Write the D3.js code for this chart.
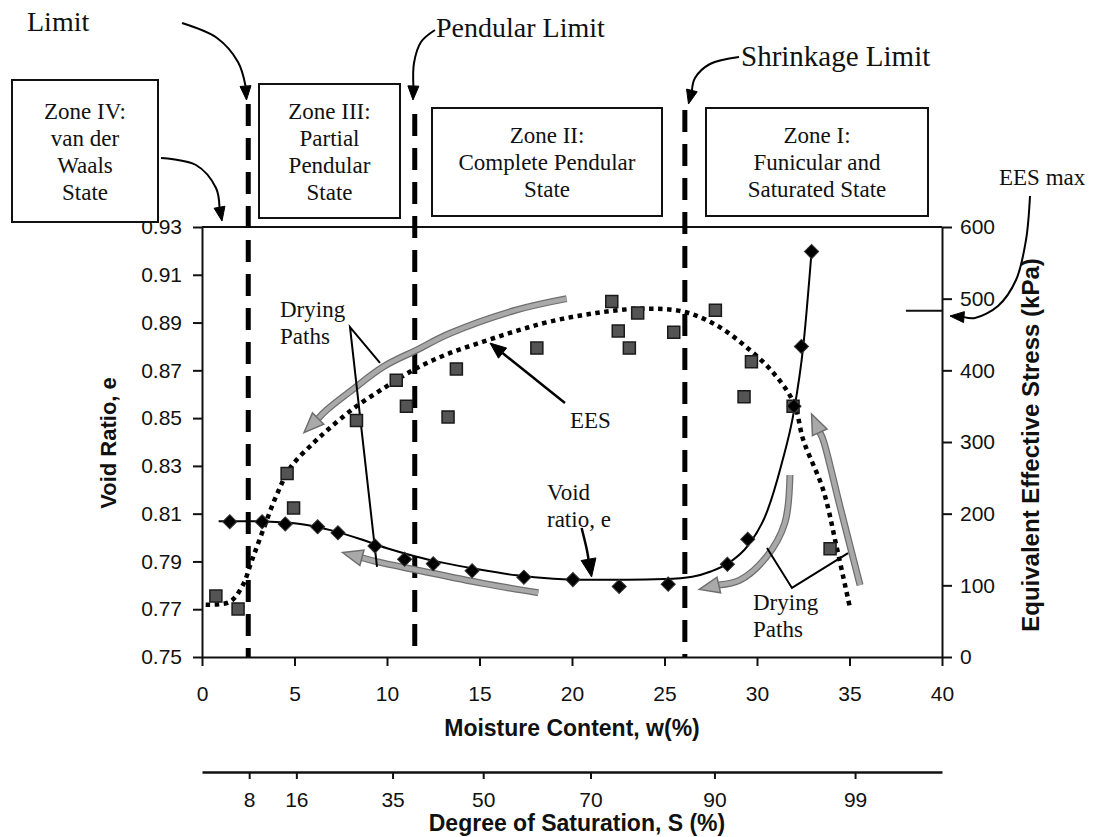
<!DOCTYPE html>
<html>
<head>
<meta charset="utf-8">
<script src="https://cdn.jsdelivr.net/npm/d3@7"></script>
<style>
  body { margin: 0; background: #fff; }
  svg { display: block; }
  .tick text { font-family: "Liberation Sans", Arial, sans-serif; font-size: 21px; fill: #111; }
  .serif { font-family: "Liberation Serif", "Times New Roman", serif; fill: #111; }
  .title { font-family: "Liberation Sans", Arial, sans-serif; font-weight: bold; fill: #111; }
</style>
</head>
<body>
<div class="canvas"></div>
<script>
"use strict";

// measured void ratio (diamonds)
const voidW = [1.5, 3.25, 4.5, 6.25, 7.35, 9.35, 10.95, 12.5, 14.6, 17.4, 20.05, 22.55, 25.2, 28.4, 29.5, 32.0, 32.4, 32.95];
const voidE = [0.8066, 0.8066, 0.8057, 0.8045, 0.802, 0.7965, 0.7909, 0.789, 0.7861, 0.7834, 0.7824, 0.7795, 0.7805, 0.7888, 0.7993, 0.855, 0.880, 0.9197];

// fitted void ratio curve (solid)
const voidFitW = [0.9, 2.5, 4, 5.5, 7, 8.5, 10, 11.5, 13, 15, 17, 19, 21, 23, 25, 26.5, 27.5, 28.5, 29.5, 30.5, 31.3, 32, 32.5, 32.95];
const voidFitE = [0.8068, 0.8068, 0.8065, 0.8055, 0.803, 0.7995, 0.7955, 0.7922, 0.7895, 0.7866, 0.7842, 0.7828, 0.7823, 0.7823, 0.7826, 0.7836, 0.7858, 0.7895, 0.7965, 0.810, 0.830, 0.853, 0.880, 0.9197];

// measured equivalent effective stress, kPa (squares)
const eesW = [0.75, 1.95, 4.6, 4.95, 8.35, 10.5, 11.05, 13.3, 13.75, 18.1, 22.15, 22.5, 23.1, 23.55, 25.5, 27.75, 29.3, 29.7, 31.95, 33.95];
const eesKpa = [85, 67, 256, 208, 330, 386, 350, 335, 402, 431, 496, 455, 431, 480, 453, 484, 363, 412, 350, 151];

// EES trend (dotted)
const eesFitW = [0.2, 1.5, 2.2, 2.7, 3.3, 4.0, 4.8, 6.0, 6.8, 8.2, 10, 11.6, 13.3, 15.2, 17, 18.8, 21.3, 23.7, 26, 27.8, 29.4, 30.9, 32, 32.5, 33.58, 34.3, 35.03];
const eesFitKpa = [73, 77, 100, 135, 177, 224, 265, 298, 317, 347, 378, 403, 423, 440, 455, 468, 480, 486, 482, 463, 433, 396, 354, 303, 233, 154, 68];

const eTicks = [0.75, 0.77, 0.79, 0.81, 0.83, 0.85, 0.87, 0.89, 0.91, 0.93];
const kpaTicks = [0, 100, 200, 300, 400, 500, 600];
const wTicks = [0, 5, 10, 15, 20, 25, 30, 35, 40];
const satLabels = [8, 16, 35, 50, 70, 90, 99];
const satW = [2.55, 5.1, 10.3, 15.2, 21.0, 27.7, 35.3];

const limitW = [2.5, 11.5, 26.1];
const limitTop = [104, 114, 110];
const eesMax = 483;

const width = 1094;
const height = 837;
const margin = { top: 227, right: 152, bottom: 180, left: 202 };

const svg = d3.select(".canvas").append("svg").attr("width", width).attr("height", height);
svg.append("rect").attr("width", width).attr("height", height).attr("fill", "#fff");

const x = d3.scaleLinear().domain([0, 40]).range([margin.left, width - margin.right]);
const yE = d3.scaleLinear().domain([0.75, 0.93]).range([height - margin.bottom, margin.top]);
const yS = d3.scaleLinear().domain([0, 600]).range([height - margin.bottom, margin.top]);
const pt = (d) => [x(d[0]), yE(d[1])];

const styleAxis = (g) => {
  g.select(".domain").attr("stroke", "#111").attr("stroke-width", 2);
  g.selectAll(".tick line").attr("stroke", "#111").attr("stroke-width", 2);
};

// axes
svg.append("g")
  .attr("transform", `translate(${margin.left},0)`)
  .call(d3.axisLeft(yE).tickValues(eTicks).tickFormat(d3.format(".2f")).tickSize(9).tickSizeOuter(0).tickPadding(11))
  .call(styleAxis);

svg.append("g")
  .attr("transform", `translate(${width - margin.right},0)`)
  .call(d3.axisRight(yS).tickValues(kpaTicks).tickSize(10).tickSizeOuter(0).tickPadding(8))
  .call(styleAxis);

svg.append("g")
  .attr("transform", `translate(0,${height - margin.bottom})`)
  .call(d3.axisBottom(x).tickValues(wTicks).tickSize(9).tickSizeOuter(0).tickPadding(20))
  .call(styleAxis);

svg.append("line")
  .attr("x1", x(0)).attr("x2", x(40))
  .attr("y1", yE(0.93)).attr("y2", yE(0.93))
  .attr("stroke", "#111").attr("stroke-width", 2);

// degree of saturation axis
const satAxis = svg.append("g")
  .attr("transform", "translate(0,772)")
  .call(d3.axisBottom(x).tickValues(satW).tickFormat((d, i) => satLabels[i]).tickSize(7).tickSizeOuter(0).tickPadding(13))
  .call(styleAxis);
satAxis.select(".domain").attr("stroke-width", 2.5);

// axis titles
svg.append("text").attr("class", "title")
  .attr("x", 572).attr("y", 736).attr("text-anchor", "middle")
  .style("font-size", "23px").text("Moisture Content, w(%)");
svg.append("text").attr("class", "title")
  .attr("x", 577).attr("y", 831).attr("text-anchor", "middle")
  .style("font-size", "23px").text("Degree of Saturation, S (%)");
svg.append("text").attr("class", "title")
  .attr("transform", "translate(116,443) rotate(-90)").attr("text-anchor", "middle")
  .style("font-size", "22px").text("Void Ratio, e");
svg.append("text").attr("class", "title")
  .attr("transform", "translate(1039,445) rotate(-90)").attr("text-anchor", "middle")
  .style("font-size", "24px").text("Equivalent Effective Stress (kPa)");

// limit lines
svg.append("g").selectAll("line")
  .data(limitW)
  .join("line")
  .attr("x1", (d) => x(d)).attr("x2", (d) => x(d))
  .attr("y1", (d, i) => limitTop[i]).attr("y2", yE(0.75))
  .attr("stroke", "#000").attr("stroke-width", 5)
  .attr("stroke-dasharray", "22,12");

// zone boxes
const zones = [
  { lines: ["Zone IV:", "van der", "Waals", "State"], x0: 12, y0: 80, x1: 158, y1: 222 },
  { lines: ["Zone III:", "Partial", "Pendular", "State"], x0: 259, y0: 84, x1: 400, y1: 218 },
  { lines: ["Zone II:", "Complete Pendular", "State"], x0: 432, y0: 108, x1: 662, y1: 216 },
  { lines: ["Zone I:", "Funicular and", "Saturated State"], x0: 706, y0: 108, x1: 928, y1: 216 },
];
const zoneG = svg.append("g").selectAll("g").data(zones).join("g");
zoneG.append("rect")
  .attr("x", (d) => d.x0).attr("y", (d) => d.y0)
  .attr("width", (d) => d.x1 - d.x0).attr("height", (d) => d.y1 - d.y0)
  .attr("fill", "#fff").attr("stroke", "#111").attr("stroke-width", 2);
zoneG.each(function (d) {
  const cy = (d.y0 + d.y1) / 2;
  const n = d.lines.length;
  d3.select(this).selectAll("text")
    .data(d.lines)
    .join("text")
    .attr("class", "serif")
    .attr("x", (d.x0 + d.x1) / 2)
    .attr("y", (t, i) => cy + (i - (n - 1) / 2) * 27 + 8)
    .attr("text-anchor", "middle")
    .style("font-size", "23px")
    .text((t) => t);
});

// arrow helpers
const smooth = d3.line().curve(d3.curveCatmullRom.alpha(0.5));

function arrow(g, pts, opt) {
  const { color = "#000", width = 2, head = 14, headW = 11, outline = null } = opt || {};
  const tip = pts[pts.length - 1];
  const prev = pts[pts.length - 2];
  const dx = tip[0] - prev[0];
  const dy = tip[1] - prev[1];
  const len = Math.hypot(dx, dy);
  const ux = dx / len, uy = dy / len;
  const base = [tip[0] - ux * head, tip[1] - uy * head];
  const body = pts.slice(0, -1).concat([base]);
  const tri = [
    tip,
    [base[0] - uy * headW / 2, base[1] + ux * headW / 2],
    [base[0] + uy * headW / 2, base[1] - ux * headW / 2],
  ];
  if (outline) {
    g.append("path").attr("d", smooth(body)).attr("fill", "none")
      .attr("stroke", outline).attr("stroke-width", width + 2.5);
  }
  g.append("path").attr("d", smooth(body)).attr("fill", "none")
    .attr("stroke", color).attr("stroke-width", width);
  g.append("path").attr("d", "M" + tri.join("L") + "Z")
    .attr("fill", color).attr("stroke", outline || color).attr("stroke-width", outline ? 1.5 : 1);
}

const annot = svg.append("g");

// gray drying-path arrows
const dryingArrows = [
  [[19.71, 0.9], [17.01, 0.8953], [13.41, 0.8855], [11.6, 0.8785], [9.8, 0.8715], [8.0, 0.8611], [6.74, 0.8534], [5.51, 0.8439]],
  [[18.18, 0.7769], [15.2, 0.7808], [11.6, 0.7864], [9.44, 0.7899], [7.6, 0.7937]],
  [[31.78, 0.8262], [31.5, 0.806], [30.52, 0.792], [29.08, 0.7822], [26.88, 0.7783]],
  [[35.57, 0.7801], [34.49, 0.8129], [33.58, 0.8408], [32.95, 0.8517]],
];
dryingArrows.forEach((a) => arrow(annot, a.map(pt), { color: "#a9a9a9", width: 4.5, head: 20, headW: 16, outline: "#6e6e6e" }));

// EES trend (dotted)
svg.append("path")
  .datum(eesFitW.map((w, i) => [x(w), yS(eesFitKpa[i])]))
  .attr("d", smooth)
  .attr("fill", "none").attr("stroke", "#000").attr("stroke-width", 4.5)
  .attr("stroke-dasharray", "4.5,4.5");

// void ratio fit
svg.append("path")
  .datum(voidFitW.map((w, i) => [x(w), yE(voidFitE[i])]))
  .attr("d", d3.line().curve(d3.curveMonotoneX))
  .attr("fill", "none").attr("stroke", "#000").attr("stroke-width", 2);

// EES squares
svg.append("g").selectAll("path")
  .data(eesW.map((w, i) => [w, eesKpa[i]]))
  .join("path")
  .attr("d", d3.symbol(d3.symbolSquare, 144))
  .attr("transform", (d) => `translate(${x(d[0])},${yS(d[1])})`)
  .attr("fill", "#545454").attr("stroke", "#1a1a1a").attr("stroke-width", 1.5);

// void ratio diamonds
svg.append("g").selectAll("path")
  .data(voidW.map((w, i) => [w, voidE[i]]))
  .join("path")
  .attr("d", d3.symbol(d3.symbolSquare, 100))
  .attr("transform", (d) => `translate(${x(d[0])},${yE(d[1])}) rotate(45)`)
  .attr("fill", "#000").attr("stroke", "#333").attr("stroke-width", 1);

// EES max marker
svg.append("line")
  .attr("x1", x(38.05)).attr("x2", x(40))
  .attr("y1", yS(eesMax)).attr("y2", yS(eesMax))
  .attr("stroke", "#111").attr("stroke-width", 2);

// black pointer arrows
arrow(annot, [[19.62, 0.8563], [15.57, 0.8814]].map(pt), { width: 2.5, head: 16, headW: 13 });
arrow(annot, [[20.52, 0.804], [20.8, 0.795], [21.06, 0.7835]].map(pt), { width: 2.5, head: 18, headW: 15 });

const marginArrows = [
  [[182, 23], [217, 38], [238, 62], [245.5, 86], [246.5, 100]],
  [[435, 30], [421, 42], [414, 63], [413, 100]],
  [[739, 57], [710, 64], [695, 78], [688.5, 104]],
  [[161, 158], [196, 165], [216, 188], [222, 221]],
  [[1030, 196], [1026, 240], [1016, 280], [998, 306], [975, 318], [950, 316]],
];
marginArrows.forEach((a) => arrow(annot, a, { width: 2, head: 14, headW: 11 }));

// drying path leader lines
const leaders = [
  [[9.62, 0.8731], [8.0, 0.8881], [9.46, 0.7877]],
  [[30.54, 0.7956], [31.89, 0.7789], [34.92, 0.7935]],
];
annot.selectAll(".leader").data(leaders).join("path")
  .attr("class", "leader")
  .attr("d", (d) => d3.line()(d.map(pt)))
  .attr("fill", "none").attr("stroke", "#000").attr("stroke-width", 2);

// annotation labels
const labels = [
  { t: "Limit", x: 27, y: 31, s: 28 },
  { t: "Pendular Limit", x: 436, y: 37, s: 28 },
  { t: "Shrinkage Limit", x: 741, y: 66, s: 29 },
  { t: "EES max", x: 999, y: 185, s: 23 },
  { t: "EES", x: 570, y: 428, s: 23 },
  { t: "Void", x: 547, y: 500, s: 23 },
  { t: "ratio, e", x: 547, y: 527, s: 23 },
  { t: "Drying", x: 280, y: 317, s: 23 },
  { t: "Paths", x: 280, y: 344, s: 23 },
  { t: "Drying", x: 753, y: 610, s: 23 },
  { t: "Paths", x: 753, y: 637, s: 23 },
];
svg.append("g").selectAll("text").data(labels).join("text")
  .attr("class", "serif")
  .attr("x", (d) => d.x).attr("y", (d) => d.y)
  .style("font-size", (d) => d.s + "px")
  .text((d) => d.t);
</script>
</body>
</html>
